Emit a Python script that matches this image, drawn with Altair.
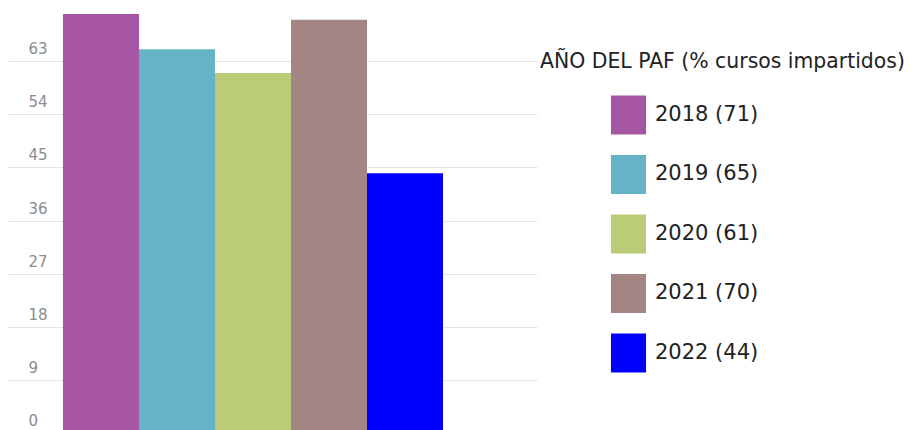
import altair as alt
import pandas as pd

years = ["2018", "2019", "2020", "2021", "2022"]
values = [71, 65, 61, 70, 44]
colors = ["#A656A5", "#67B3C6", "#BBCC78", "#A38584", "#0000FF"]
y_ticks = [0, 9, 18, 27, 36, 45, 54, 63]
legend_title = "AÑO DEL PAF (% cursos impartidos)"

labels = [f"{y} ({v})" for y, v in zip(years, values)]
df = pd.DataFrame({"year": years, "value": values, "label": labels})

FONT = "DejaVu Sans"

chart = alt.Chart(df).mark_bar().encode(
    x=alt.X("year:N", axis=None, sort=years,
            scale=alt.Scale(paddingInner=0, paddingOuter=0.98, align=0.369)),
    y=alt.Y("value:Q",
            scale=alt.Scale(domain=[0, 72], nice=False, zero=True),
            axis=alt.Axis(values=y_ticks, title=None, domain=False, ticks=False,
                          grid=True, gridColor="#e4e4e4", gridWidth=1,
                          labelFont=FONT, labelFontSize=15, labelColor="#8c8c8c",
                          labelAlign="left", labelBaseline="middle",
                          labelPadding=-20, labelOffset=-12.5)),
    color=alt.Color("label:N",
                    scale=alt.Scale(domain=labels, range=colors),
                    legend=alt.Legend(
                        title=legend_title, orient="none",
                        legendX=532, legendY=44,
                        titleFont=FONT, titleFontSize=20.4, titleFontWeight="normal",
                        titleColor="#222222", titleLimit=500, titlePadding=23,
                        labelFont=FONT, labelFontSize=21, labelColor="#222222",
                        labelLimit=300, labelOffset=7,
                        symbolType="M-0.9,-1H0.9V1H-0.9Z", symbolSize=1521,
                        symbolStrokeWidth=0, symbolOpacity=1,
                        symbolOffset=69, rowPadding=20.5)),
).properties(width=529, height=425, padding=0).configure_view(stroke=None)

chart.save("out.html", embed_options={"renderer": "svg", "actions": False})
